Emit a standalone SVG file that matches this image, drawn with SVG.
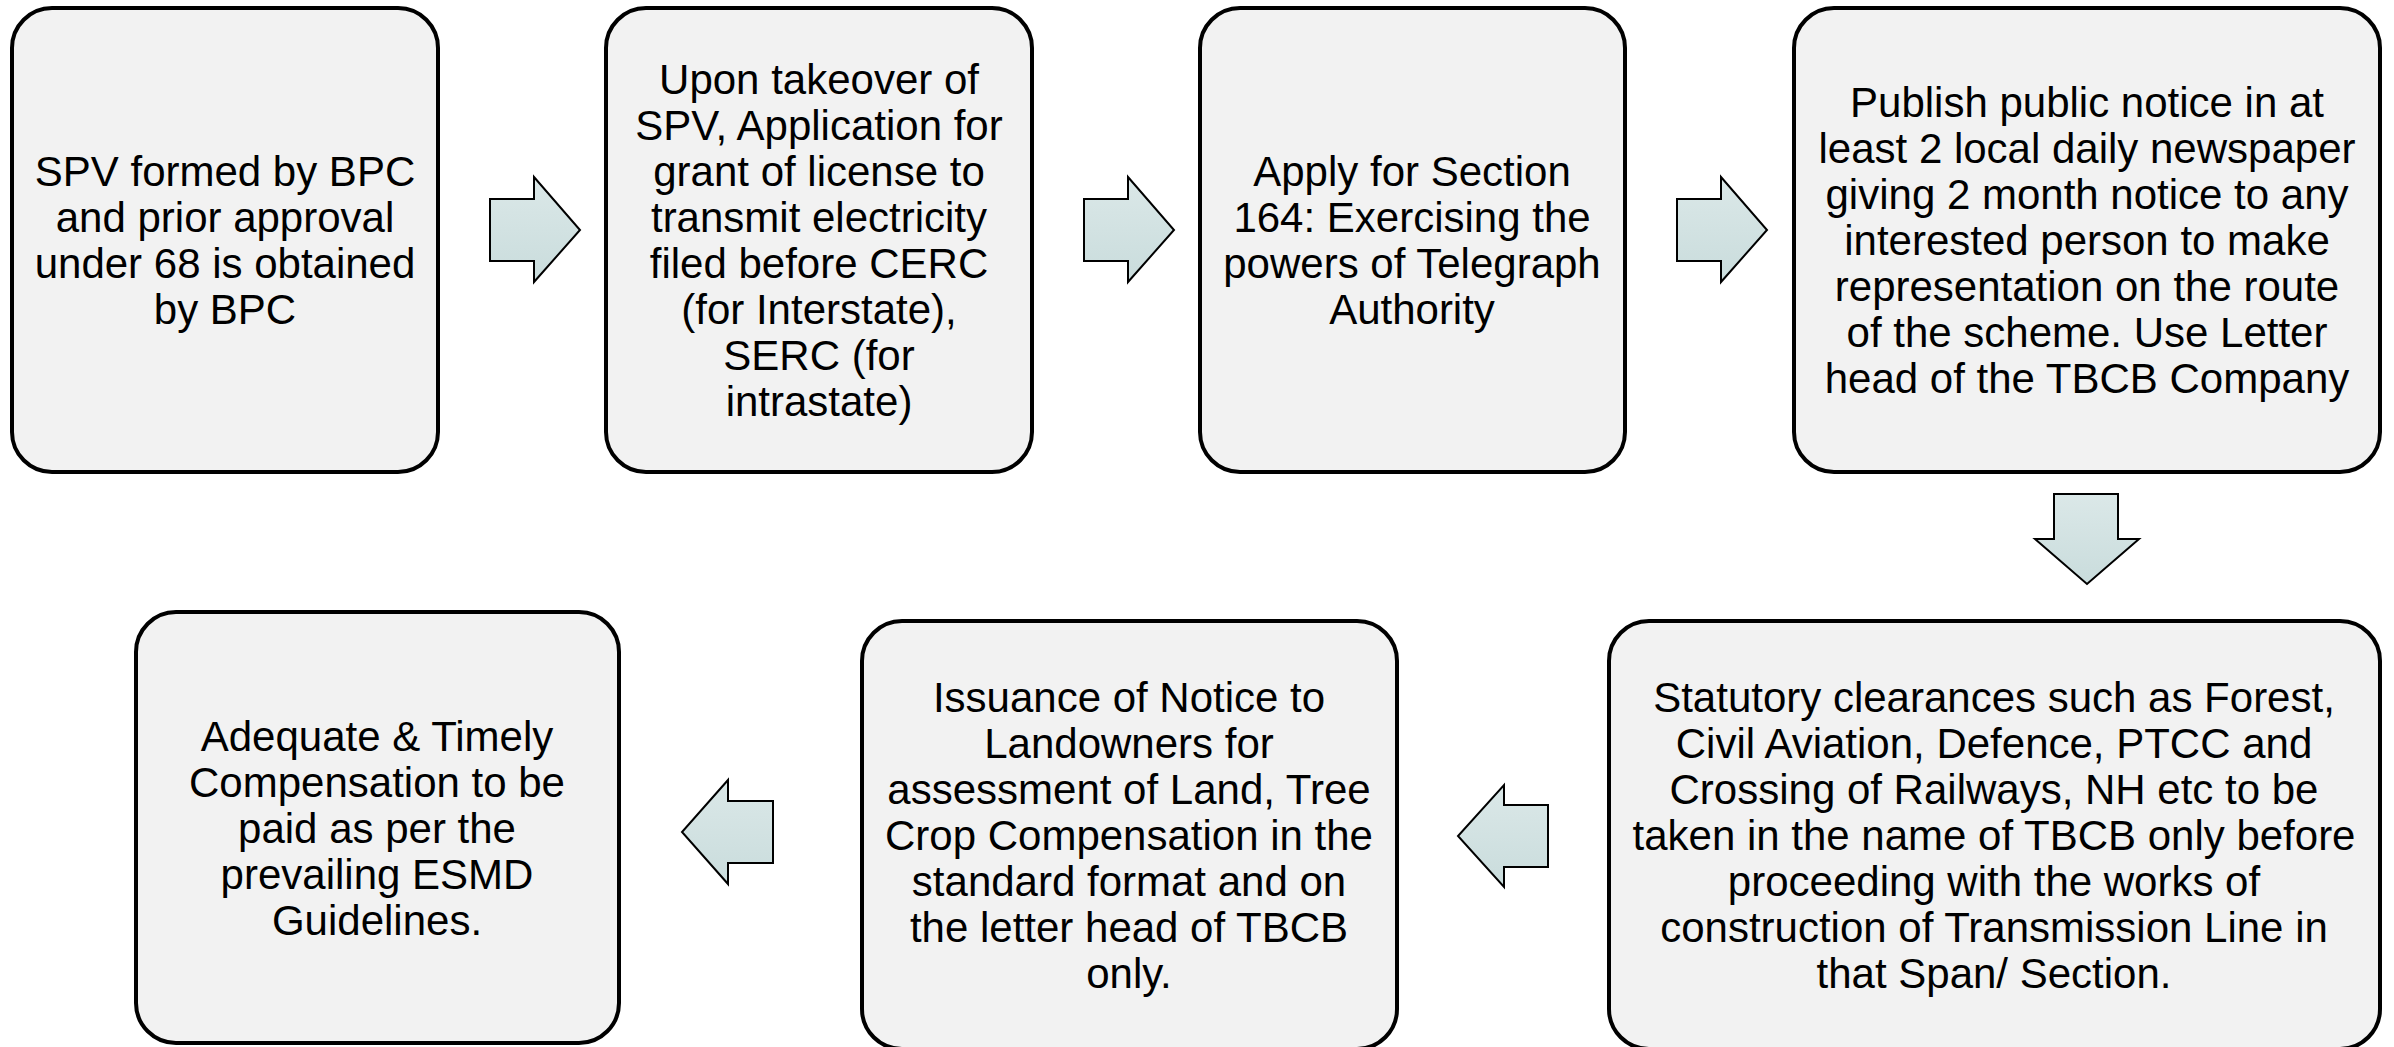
<svg xmlns="http://www.w3.org/2000/svg" width="2394" height="1047" viewBox="0 0 2394 1047">
<style>
.box{fill:#f2f2f2;stroke:#000;stroke-width:4}
.arr{fill:url(#ag);stroke:#000;stroke-width:2;stroke-linejoin:miter}
text{font-family:"Liberation Sans",Arial,sans-serif;font-size:42px;fill:#000;text-anchor:middle}
</style>
<defs>
<linearGradient id="ag" x1="0" y1="0" x2="0" y2="1">
<stop offset="0" stop-color="#dbe8e8"/>
<stop offset="1" stop-color="#c9dcdc"/>
</linearGradient>
</defs>
<rect width="2394" height="1047" fill="#fff"/>
<g id="connectors">
<path class="arr" d="M490,199 H534 V177 L580,230 L534,282 V261 H490 Z"/>
<path class="arr" d="M1084,199 H1128 V177 L1174,230 L1128,282 V261 H1084 Z"/>
<path class="arr" d="M1677,199 H1721 V177 L1767,230 L1721,282 V261 H1677 Z"/>
<path class="arr" d="M2054,494 H2118 V539 H2139 L2087,584 L2035,539 H2054 Z"/>
<path class="arr" d="M1548,805 H1504 V785 L1458,836 L1504,887 V867 H1548 Z"/>
<path class="arr" d="M773,801 H728 V780 L682,832 L728,884 V863 H773 Z"/>
</g>
<g id="n1">
<rect class="box" x="12" y="8" width="426" height="464" rx="40"/>
<text x="225" y="186">SPV formed by BPC</text>
<text x="225" y="232">and prior approval</text>
<text x="225" y="278">under 68 is obtained</text>
<text x="225" y="324">by BPC</text>
</g>
<g id="n2">
<rect class="box" x="606" y="8" width="426" height="464" rx="40"/>
<text x="819" y="94">Upon takeover of</text>
<text x="819" y="140">SPV, Application for</text>
<text x="819" y="186">grant of license to</text>
<text x="819" y="232">transmit electricity</text>
<text x="819" y="278">filed before CERC</text>
<text x="819" y="324">(for Interstate),</text>
<text x="819" y="370">SERC (for</text>
<text x="819" y="416">intrastate)</text>
</g>
<g id="n3">
<rect class="box" x="1200" y="8" width="425" height="464" rx="40"/>
<text x="1412" y="186">Apply for Section</text>
<text x="1412" y="232">164: Exercising the</text>
<text x="1412" y="278">powers of Telegraph</text>
<text x="1412" y="324">Authority</text>
</g>
<g id="n4">
<rect class="box" x="1794" y="8" width="586" height="464" rx="40"/>
<text x="2087" y="117">Publish public notice in at</text>
<text x="2087" y="163">least 2 local daily newspaper</text>
<text x="2087" y="209">giving 2 month notice to any</text>
<text x="2087" y="255">interested person to make</text>
<text x="2087" y="301">representation on the route</text>
<text x="2087" y="347">of the scheme. Use Letter</text>
<text x="2087" y="393">head of the TBCB Company</text>
</g>
<g id="n5">
<rect class="box" x="1609" y="621" width="771" height="428" rx="40"/>
<text x="1994" y="712">Statutory clearances such as Forest,</text>
<text x="1994" y="758">Civil Aviation, Defence, PTCC and</text>
<text x="1994" y="804">Crossing of Railways, NH etc to be</text>
<text x="1994" y="850">taken in the name of TBCB only before</text>
<text x="1994" y="896">proceeding with the works of</text>
<text x="1994" y="942">construction of Transmission Line in</text>
<text x="1994" y="988">that Span/ Section.</text>
</g>
<g id="n6">
<rect class="box" x="862" y="621" width="535" height="428" rx="40"/>
<text x="1129" y="712">Issuance of Notice to</text>
<text x="1129" y="758">Landowners for</text>
<text x="1129" y="804">assessment of Land, Tree</text>
<text x="1129" y="850">Crop Compensation in the</text>
<text x="1129" y="896">standard format and on</text>
<text x="1129" y="942">the letter head of TBCB</text>
<text x="1129" y="988">only.</text>
</g>
<g id="n7">
<rect class="box" x="136" y="612" width="483" height="431" rx="40"/>
<text x="377" y="751">Adequate &amp; Timely</text>
<text x="377" y="797">Compensation to be</text>
<text x="377" y="843">paid as per the</text>
<text x="377" y="889">prevailing ESMD</text>
<text x="377" y="935">Guidelines.</text>
</g>
</svg>
